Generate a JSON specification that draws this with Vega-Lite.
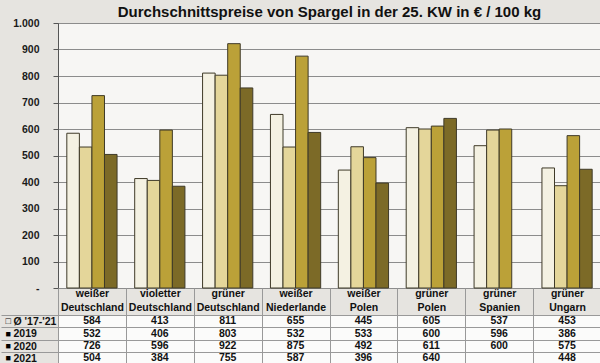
{
  "$schema": "https://vega.github.io/schema/vega-lite/v6.json",
  "padding": {"top": 4, "left": 0, "right": 0, "bottom": 0},
  "background": "#E6E4E0",
  "spacing": 27,
  "bounds": "flush",
  "config": {
    "font": "Liberation Sans",
    "view": {"stroke": null}
  },
  "datasets": {
    "prices": [
      {"cat": "weißer Deutschland", "series": "Ø '17-'21", "value": 584},
      {"cat": "weißer Deutschland", "series": "2019", "value": 532},
      {"cat": "weißer Deutschland", "series": "2020", "value": 726},
      {"cat": "weißer Deutschland", "series": "2021", "value": 504},
      {"cat": "violetter Deutschland", "series": "Ø '17-'21", "value": 413},
      {"cat": "violetter Deutschland", "series": "2019", "value": 406},
      {"cat": "violetter Deutschland", "series": "2020", "value": 596},
      {"cat": "violetter Deutschland", "series": "2021", "value": 384},
      {"cat": "grüner Deutschland", "series": "Ø '17-'21", "value": 811},
      {"cat": "grüner Deutschland", "series": "2019", "value": 803},
      {"cat": "grüner Deutschland", "series": "2020", "value": 922},
      {"cat": "grüner Deutschland", "series": "2021", "value": 755},
      {"cat": "weißer Niederlande", "series": "Ø '17-'21", "value": 655},
      {"cat": "weißer Niederlande", "series": "2019", "value": 532},
      {"cat": "weißer Niederlande", "series": "2020", "value": 875},
      {"cat": "weißer Niederlande", "series": "2021", "value": 587},
      {"cat": "weißer Polen", "series": "Ø '17-'21", "value": 445},
      {"cat": "weißer Polen", "series": "2019", "value": 533},
      {"cat": "weißer Polen", "series": "2020", "value": 492},
      {"cat": "weißer Polen", "series": "2021", "value": 396},
      {"cat": "grüner Polen", "series": "Ø '17-'21", "value": 605},
      {"cat": "grüner Polen", "series": "2019", "value": 600},
      {"cat": "grüner Polen", "series": "2020", "value": 611},
      {"cat": "grüner Polen", "series": "2021", "value": 640},
      {"cat": "grüner Spanien", "series": "Ø '17-'21", "value": 537},
      {"cat": "grüner Spanien", "series": "2019", "value": 596},
      {"cat": "grüner Spanien", "series": "2020", "value": 600},
      {"cat": "grüner Ungarn", "series": "Ø '17-'21", "value": 453},
      {"cat": "grüner Ungarn", "series": "2019", "value": 386},
      {"cat": "grüner Ungarn", "series": "2020", "value": 575},
      {"cat": "grüner Ungarn", "series": "2021", "value": 448}
    ]
  },
  "vconcat": [
    {
      "width": 543,
      "height": 265,
      "title": {
        "text": "Durchschnittspreise von Spargel in der 25. KW in € / 100 kg",
        "fontSize": 15,
        "fontWeight": "bold",
        "anchor": "middle",
        "frame": "group",
        "color": "#111111",
        "offset": -2
      },
      "data": {"name": "prices"},
      "view": {"fill": "#F7F6F4", "stroke": "#8A8A8A"},
      "mark": {"type": "bar", "stroke": "#3F3A28", "strokeWidth": 1},
      "encoding": {
        "x": {
          "field": "cat",
          "type": "nominal",
          "sort": ["weißer Deutschland", "violetter Deutschland", "grüner Deutschland", "weißer Niederlande", "weißer Polen", "grüner Polen", "grüner Spanien", "grüner Ungarn"],
          "scale": {"paddingInner": 0.26, "paddingOuter": 0.13},
          "axis": null
        },
        "xOffset": {
          "field": "series",
          "type": "nominal",
          "sort": ["Ø '17-'21", "2019", "2020", "2021"],
          "scale": {"paddingInner": 0, "paddingOuter": 0}
        },
        "y": {
          "field": "value",
          "type": "quantitative",
          "scale": {"domain": [0, 1000]},
          "axis": {
            "title": null,
            "values": [0, 100, 200, 300, 400, 500, 600, 700, 800, 900, 1000],
            "labelExpr": "datum.value == 0 ? '-' : replace(format(datum.value, ','), ',', '.')",
            "labelFontSize": 10.5,
            "labelFontWeight": "bold",
            "labelColor": "#1A1A1A",
            "labelPadding": 14,
            "tickSize": 5,
            "tickColor": "#555555",
            "domainColor": "#555555",
            "gridColor": "#8C8C8C",
            "gridWidth": 1
          }
        },
        "color": {
          "field": "series",
          "type": "nominal",
          "scale": {
            "domain": ["Ø '17-'21", "2019", "2020", "2021"],
            "range": ["#F4F1E2", "#E4D69A", "#BBA138", "#7C6A27"]
          },
          "legend": null
        }
      }
    },
    {
      "width": 543,
      "height": 49.6,
      "data": {"name": "prices"},
      "view": {"fill": "#FBFBFA", "stroke": "#999999"},
      "resolve": {"axis": {"y": "independent"}},
      "layer": [
        {
          "mark": {"type": "text", "fontSize": 10.5, "fontWeight": "bold", "color": "#111111", "baseline": "middle"},
          "encoding": {
            "x": {
              "field": "cat",
              "type": "nominal",
              "sort": ["weißer Deutschland", "violetter Deutschland", "grüner Deutschland", "weißer Niederlande", "weißer Polen", "grüner Polen", "grüner Spanien", "grüner Ungarn"],
              "scale": {"paddingInner": 0, "paddingOuter": 0},
              "axis": {
                "title": null,
                "orient": "top",
                "labelAngle": 0,
                "labelExpr": "split(datum.label, ' ')",
                "labelFontSize": 10.5,
                "labelFontWeight": "bold",
                "labelColor": "#111111",
                "labelLineHeight": 13.5,
                "labelBaseline": "top",
                "labelPadding": -0.5,
                "labelOverlap": false,
                "tickBand": "extent",
                "tickSize": 27,
                "tickColor": "#999999",
                "grid": true,
                "gridColor": "#999999",
                "domainColor": "#999999"
              }
            },
            "y": {
              "field": "series",
              "type": "nominal",
              "sort": ["Ø '17-'21", "2019", "2020", "2021"],
              "scale": {"paddingInner": 0, "paddingOuter": 0},
              "axis": {
                "title": null,
                "orient": "left",
                "labelAlign": "left",
                "labelBaseline": "middle",
                "labelPadding": -12,
                "labelFontSize": 10.5,
                "labelFontWeight": "bold",
                "labelColor": "#111111",
                "tickBand": "extent",
                "tickSize": 57,
                "tickColor": "#999999",
                "grid": true,
                "gridColor": "#999999",
                "domainColor": "#999999"
              }
            },
            "text": {"field": "value", "type": "quantitative"}
          }
        },
        {
          "mark": {"type": "text", "opacity": 0},
          "encoding": {
            "x": {
              "field": "cat",
              "type": "nominal",
              "sort": ["weißer Deutschland", "violetter Deutschland", "grüner Deutschland", "weißer Niederlande", "weißer Polen", "grüner Polen", "grüner Spanien", "grüner Ungarn"]
            },
            "y": {
              "field": "series",
              "type": "nominal",
              "sort": ["Ø '17-'21", "2019", "2020", "2021"],
              "axis": {
                "title": null,
                "orient": "left",
                "labelAlign": "left",
                "labelBaseline": "middle",
                "labelPadding": 53,
                "labelFontSize": 9,
                "ticks": false,
                "domain": false,
                "grid": false,
                "labelExpr": "datum.value == '2019' || datum.value == '2020' || datum.value == '2021' ? '■' : '□'",
                "encode": {
                  "labels": {
                    "update": {
                      "fill": {"signal": "datum.value == '2019' ? '#CDBB6E' : datum.value == '2020' ? '#A48C2C' : datum.value == '2021' ? '#6A5A20' : '#777777'"}
                    }
                  }
                }
              }
            },
            "text": {"field": "value", "type": "quantitative"}
          }
        }
      ]
    }
  ]
}
